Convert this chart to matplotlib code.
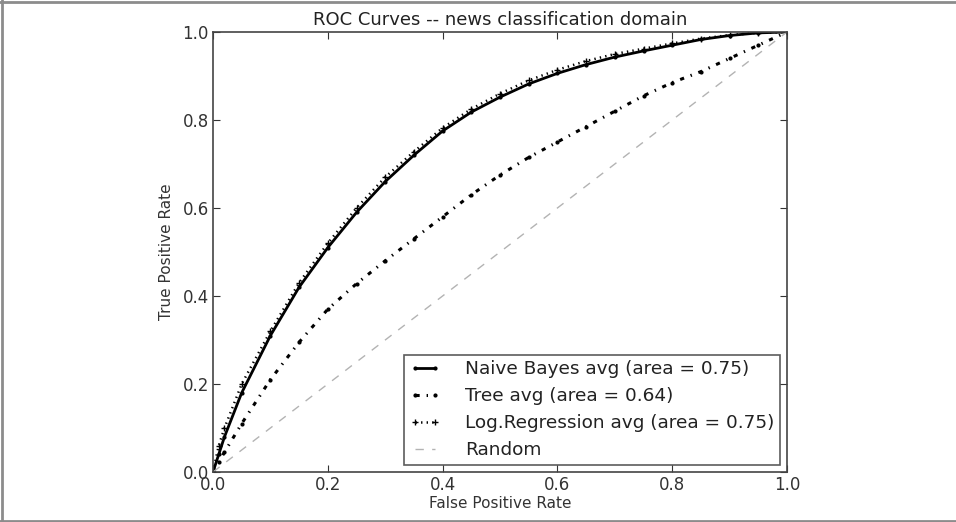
import matplotlib
matplotlib.use("Agg")
import matplotlib.pyplot as plt
from matplotlib.lines import Line2D

# ROC data
fpr = [0.0, 0.01, 0.02, 0.05, 0.10, 0.15, 0.20, 0.25, 0.30, 0.35, 0.40, 0.45,
       0.50, 0.55, 0.60, 0.65, 0.70, 0.75, 0.80, 0.85, 0.90, 0.95, 1.0]
tpr_nb = [0.0, 0.04, 0.08, 0.18, 0.31, 0.42, 0.51, 0.59, 0.66, 0.72, 0.775, 0.818,
          0.852, 0.882, 0.906, 0.926, 0.943, 0.957, 0.97, 0.983, 0.992, 0.998, 1.0]
tpr_tree = [0.0, 0.022, 0.045, 0.11, 0.21, 0.295, 0.37, 0.428, 0.48, 0.53, 0.58, 0.63,
            0.675, 0.715, 0.75, 0.785, 0.82, 0.855, 0.885, 0.91, 0.94, 0.97, 1.0]
tpr_lr = [0.0, 0.06, 0.10, 0.20, 0.32, 0.43, 0.52, 0.60, 0.67, 0.728, 0.782, 0.825,
          0.86, 0.89, 0.914, 0.934, 0.95, 0.962, 0.974, 0.985, 0.993, 0.998, 1.0]

labels = ["Naive Bayes avg (area = 0.75)", "Tree avg (area = 0.64)",
          "Log.Regression avg (area = 0.75)", "Random"]

plt.rcParams['font.family'] = ['DejaVu Sans']
plt.rcParams['lines.scale_dashes'] = False

fig = plt.figure(figsize=(9.56, 5.22), dpi=100)
ax = fig.add_axes([213 / 956, 50 / 522, 574 / 956, 440 / 522])

ax.plot(fpr, tpr_nb, '-', color='black', lw=2, marker='.', ms=4, label=labels[0])
ax.plot(fpr, tpr_tree, color='black', lw=2.2, ls=(0, (3, 5, 1, 5)),
        marker='.', ms=4, label=labels[1])
ax.plot(fpr, tpr_lr, color='black', lw=1.8, ls=(0, (1, 3)), marker='+', ms=5,
        mew=1, label=labels[2])
ax.plot([0, 1], [0, 1], color='0.7', lw=1, ls=(0, (6, 6)), label=labels[3])

ax.set_xlim(0, 1)
ax.set_ylim(0, 1)
ax.set_xticks([0, 0.2, 0.4, 0.6, 0.8, 1.0])
ax.set_yticks([0, 0.2, 0.4, 0.6, 0.8, 1.0])
ax.tick_params(direction='in', top=True, right=True, length=5, labelsize=12,
               colors='#333333', pad=3)
for s in ax.spines.values():
    s.set_color('#444444')
    s.set_linewidth(1.2)

ax.set_title("ROC Curves -- news classification domain", fontsize=13,
             color='#222222', pad=5)
ax.set_xlabel("False Positive Rate", fontsize=11, color='#333333', labelpad=1)
ax.set_ylabel("True Positive Rate", fontsize=11, color='#333333', labelpad=6)

leg = ax.legend(loc='lower right', fontsize=13.3, numpoints=2, fancybox=False,
                handlelength=1.7, handletextpad=1.3, borderpad=0.3,
                labelspacing=0.48, borderaxespad=0.4)
leg.get_frame().set_edgecolor('#333333')
leg.get_frame().set_linewidth(1.2)
for t in leg.get_texts():
    t.set_color('#222222')

# grey frame round the picture (top, left, bottom)
for xs, ys in [([0, 1], [0.997, 0.997]), ([0.002, 0.002], [0, 1]),
               ([0, 1], [0.002, 0.002])]:
    fig.add_artist(Line2D(xs, ys, transform=fig.transFigure, color='0.55', lw=2))

fig.savefig("out.png", dpi=100, facecolor='white')
